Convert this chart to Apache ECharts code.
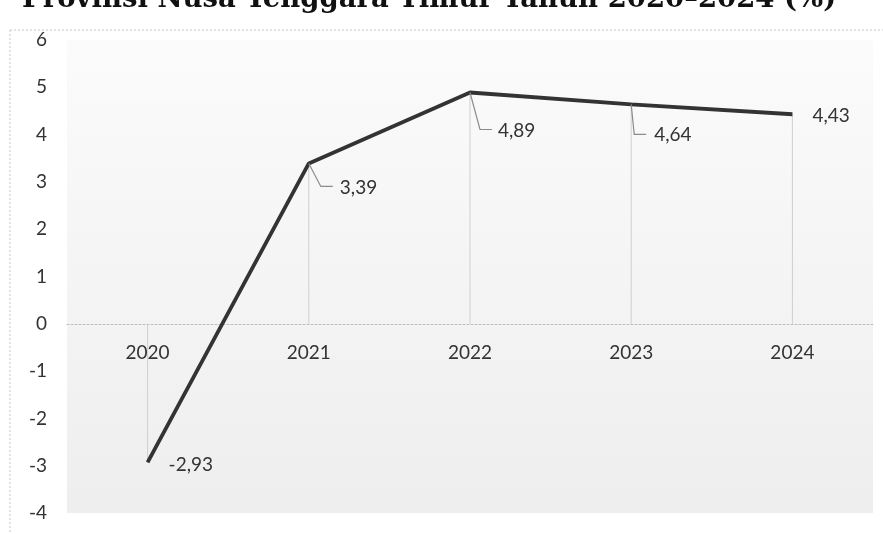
<!DOCTYPE html>
<html>
<head>
<meta charset="utf-8">
<style>
  html, body { margin: 0; padding: 0; background: #ffffff; }
  #chart { width: 883px; height: 534px; }
</style>
<script src="https://cdn.jsdelivr.net/npm/echarts@6/dist/echarts.min.js"></script>
</head>
<body>
<div id="chart"></div>
<script>
// Laju pertumbuhan ekonomi NTT, 2020–2024 (%)
const years = ['2020', '2021', '2022', '2023', '2024'];
const growth = [-2.93, 3.39, 4.89, 4.64, 4.43];
const yTicks = [-4, -3, -2, -1, 0, 1, 2, 3, 4, 5, 6];
const titleText = 'Provinsi Nusa Tenggara Timur Tahun 2020–2024 (%)';

// Pixel offsets of each value label from its point (leader bend, leader end, text start)
const labelOffsets = [
  { leader: false, tx: 21, ty: 2 },
  { leader: true, bx: 12, by: 23, ex: 24, tx: 31 },
  { leader: true, bx: 10, by: 37, ex: 22, tx: 28 },
  { leader: true, bx: 3, by: 30, ex: 15, tx: 23 },
  { leader: false, tx: 20, ty: 2 }
];

const fmt = v => v.toFixed(2).replace('.', ',');
const textColor = '#333333';
const baseFont = 'Lato';

const gridTop = 40, gridBottom = 21, chartH = 534;
const yMin = yTicks[0], yMax = yTicks[yTicks.length - 1];
// distance from the grid's bottom edge up to the zero line
const zeroLift = (chartH - gridTop - gridBottom) * (0 - yMin) / (yMax - yMin);

const chart = echarts.init(document.getElementById('chart'), null, { renderer: 'canvas' });

chart.setOption({
  backgroundColor: '#ffffff',
  animation: false,
  graphic: [
    {
      type: 'text',
      left: 22,
      top: -14,
      style: {
        text: titleText,
        font: 'bold 27.5px "DejaVu Serif"',
        fill: '#111111'
      }
    },
    {
      type: 'line',
      shape: { x1: 10, y1: 30, x2: 883, y2: 30 },
      style: { stroke: '#c8c8c8', lineWidth: 1, lineDash: [2, 2] }
    },
    {
      type: 'line',
      shape: { x1: 10, y1: 30, x2: 10, y2: 534 },
      style: { stroke: '#c8c8c8', lineWidth: 1, lineDash: [2, 2] }
    }
  ],
  grid: {
    left: 67, right: 10, top: gridTop, bottom: gridBottom,
    outerBoundsMode: 'none',
    containLabel: false,
    show: true,
    borderWidth: 0,
    backgroundColor: new echarts.graphic.LinearGradient(0, 0, 0, 1, [
      { offset: 0, color: '#fbfbfb' },
      { offset: 1, color: '#eeeeee' }
    ])
  },
  xAxis: {
    type: 'category',
    data: years,
    boundaryGap: true,
    position: 'bottom',
    offset: -zeroLift,
    axisLine: { onZero: false, lineStyle: { color: '#bdbdbd', width: 1, type: [2, 2] } },
    axisTick: { show: false },
    axisLabel: { color: textColor, fontFamily: baseFont, fontSize: 19, margin: 20 },
    splitLine: { show: false }
  },
  yAxis: {
    type: 'value',
    min: yMin,
    max: yMax,
    interval: 1,
    axisLine: { show: false },
    axisTick: { show: false },
    splitLine: { show: false },
    axisLabel: { color: textColor, fontFamily: baseFont, fontSize: 19, margin: 20 }
  },
  series: [
    {
      // drop lines from each point to the category axis
      type: 'bar',
      data: growth,
      barWidth: 1,
      itemStyle: { color: '#cfcfcf' },
      silent: true,
      z: 1
    },
    {
      type: 'line',
      data: growth,
      showSymbol: false,
      symbol: 'none',
      lineStyle: { color: '#333333', width: 3.8 },
      z: 3
    },
    {
      // value labels with leader lines
      type: 'custom',
      data: growth.map((v, i) => [i, v]),
      z: 4,
      silent: true,
      renderItem: function (params, api) {
        const p = api.coord([api.value(0), api.value(1)]);
        const o = labelOffsets[params.dataIndex];
        const label = fmt(api.value(1));
        const children = [];
        if (o.leader) {
          children.push({
            type: 'polyline',
            shape: { points: [[p[0], p[1]], [p[0] + o.bx, p[1] + o.by], [p[0] + o.ex, p[1] + o.by]] },
            style: { stroke: '#8c8c8c', lineWidth: 1.2, fill: null }
          });
          children.push({
            type: 'text',
            style: {
              x: p[0] + o.tx, y: p[1] + o.by + 1,
              text: label, fill: textColor,
              font: '19px ' + baseFont,
              align: 'left', verticalAlign: 'middle'
            }
          });
        } else {
          children.push({
            type: 'text',
            style: {
              x: p[0] + o.tx, y: p[1] + o.ty,
              text: label, fill: textColor,
              font: '19px ' + baseFont,
              align: 'left', verticalAlign: 'middle'
            }
          });
        }
        return { type: 'group', children: children };
      }
    }
  ]
});
</script>
</body>
</html>
